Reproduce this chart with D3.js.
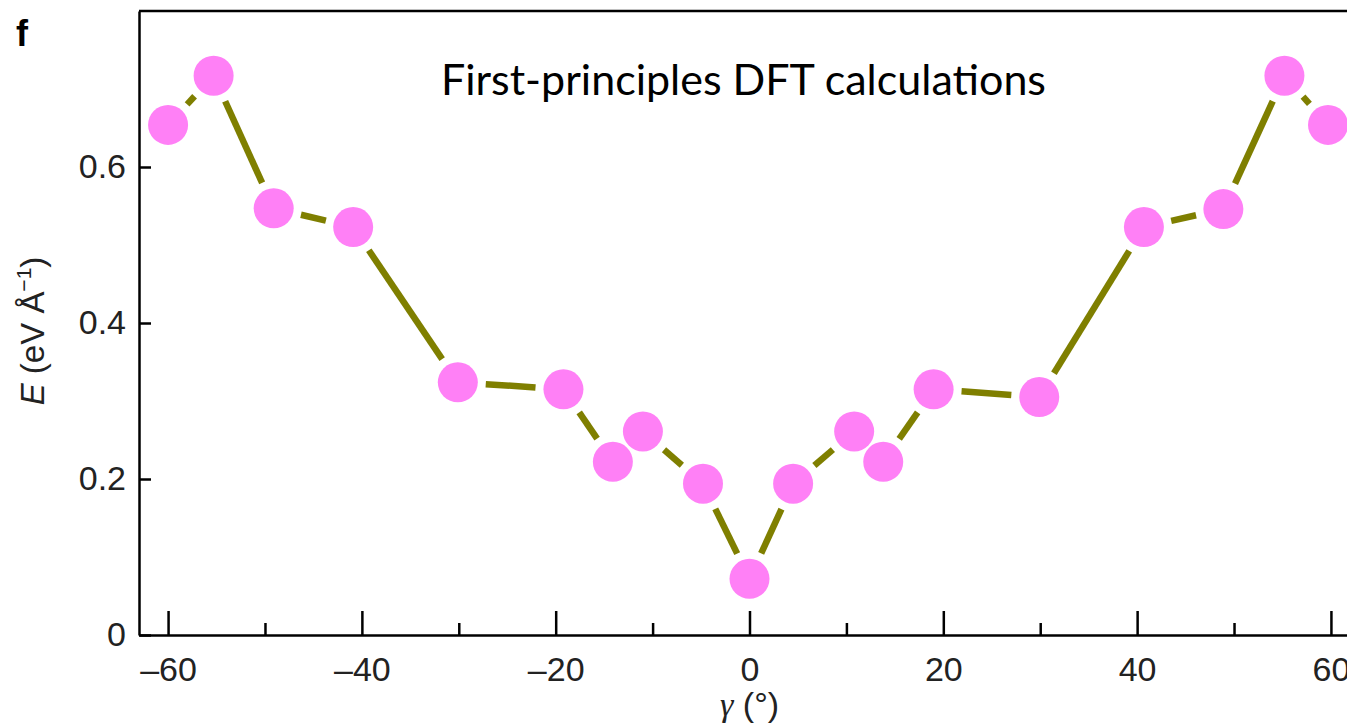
<!DOCTYPE html>
<html>
<head>
<meta charset="utf-8">
<script src="https://cdn.jsdelivr.net/npm/d3@7"></script>
<style>
  html, body { margin: 0; padding: 0; background: #fff; }
  svg { display: block; }
</style>
</head>
<body>
<div id="chart"></div>
<script>
// twist angle gamma (deg) and energy E (eV/Å)
const gammaValues = [-60, -55.3, -49.1, -40.9, -30.1, -19.2, -14.1, -11.0, -4.8, 0,
  4.5, 10.8, 13.8, 19.0, 29.9, 40.7, 48.9, 55.2, 59.7];
const energyValues = [0.654, 0.717, 0.547, 0.523, 0.324, 0.315, 0.222, 0.261, 0.194, 0.072,
  0.194, 0.261, 0.222, 0.315, 0.305, 0.523, 0.546, 0.717, 0.654];
const xMajorTicks = [-60, -40, -20, 0, 20, 40, 60];
const xMinorTicks = [-50, -30, -10, 10, 30, 50];
const yTicks = [0, 0.2, 0.4, 0.6];
const yTickLabels = ["0", "0.2", "0.4", "0.6"];

const W = 1347, H = 728;
const svg = d3.select("#chart").append("svg").attr("width", W).attr("height", H);

const x = d3.scaleLinear().domain([-63, 63]).range([139, 1360]);
const y = d3.scaleLinear().domain([0, 0.8]).range([635, 11]);

const points = gammaValues.map((g, i) => ({ g, e: energyValues[i] }));
const r = 20, gap = 28;

// connecting segments, trimmed so they stop short of the markers
const segs = d3.pairs(points).map(([a, b]) => {
  const x1 = x(a.g), y1 = y(a.e), x2 = x(b.g), y2 = y(b.e);
  const len = Math.hypot(x2 - x1, y2 - y1);
  const ux = (x2 - x1) / len, uy = (y2 - y1) / len;
  return { x1: x1 + ux * gap, y1: y1 + uy * gap, x2: x2 - ux * gap, y2: y2 - uy * gap, ok: len > 2 * gap };
}).filter(s => s.ok);

svg.append("g").selectAll("line").data(segs).join("line")
  .attr("x1", d => d.x1).attr("y1", d => d.y1)
  .attr("x2", d => d.x2).attr("y2", d => d.y2)
  .attr("stroke", "#7f7f00").attr("stroke-width", 6.5);

svg.append("g").selectAll("circle").data(points).join("circle")
  .attr("cx", d => x(d.g)).attr("cy", d => y(d.e)).attr("r", r)
  .attr("fill", "#ff80f6");

// axes
const tickFont = "'Liberation Sans', Arial, sans-serif";

const xAxis = svg.append("g").attr("transform", `translate(0,${y(0)})`)
  .call(d3.axisBottom(x).tickValues(xMajorTicks).tickSizeInner(-24).tickSizeOuter(0)
    .tickPadding(22).tickFormat(d => d < 0 ? "\u2013" + Math.abs(d) : d));
xAxis.select(".domain").attr("stroke-width", 2.5);
xAxis.selectAll(".tick line").attr("stroke-width", 2.5);
xAxis.selectAll("text").attr("font-family", tickFont).attr("font-size", 34).attr("fill", "#222");

svg.append("g").attr("transform", `translate(0,${y(0)})`)
  .call(d3.axisBottom(x).tickValues(xMinorTicks).tickSizeInner(-12).tickSizeOuter(0).tickFormat(""))
  .call(g => g.select(".domain").remove())
  .selectAll(".tick line").attr("stroke-width", 2.5);

const yAxis = svg.append("g").attr("transform", `translate(${x(-63)},0)`)
  .call(d3.axisLeft(y).tickValues(yTicks).tickSizeInner(-12).tickSizeOuter(0)
    .tickPadding(13).tickFormat((d, i) => yTickLabels[i]));
yAxis.select(".domain").attr("stroke-width", 2.5);
yAxis.selectAll(".tick line").attr("stroke-width", 2.5);
yAxis.selectAll("text").attr("font-family", tickFont).attr("font-size", 34).attr("fill", "#222");

// top frame
svg.append("line").attr("x1", x(-63)).attr("x2", W).attr("y1", y(0.8)).attr("y2", y(0.8))
  .attr("stroke", "#000").attr("stroke-width", 2.5);

// axis titles
const yl = svg.append("text")
  .attr("transform", `translate(44,${331}) rotate(-90)`)
  .attr("text-anchor", "middle")
  .attr("font-family", tickFont).attr("font-size", 33).attr("fill", "#222");
yl.append("tspan").attr("font-style", "italic").text("E");
yl.append("tspan").text(" (eV Å");
yl.append("tspan").attr("font-size", 21).attr("dy", -13).text("\u22121");
yl.append("tspan").attr("dy", 13).text(")");

const xl = svg.append("text")
  .attr("x", x(0)).attr("y", 716)
  .attr("text-anchor", "middle")
  .attr("font-family", tickFont).attr("font-size", 34).attr("fill", "#222");
xl.append("tspan").attr("font-family", "'Liberation Serif', serif").attr("font-style", "italic").text("γ");
xl.append("tspan").text(" (°)");

// panel letter
svg.append("text").attr("x", 16).attr("y", 46)
  .attr("font-family", tickFont).attr("font-weight", "bold").attr("font-size", 36)
  .text("f");

// annotation
svg.append("text").attr("x", 441).attr("y", 95)
  .attr("font-family", "Lato, 'Open Sans', sans-serif").attr("font-size", 43)
  .attr("fill", "#000")
  .text("First-principles DFT calculations");
</script>
</body>
</html>
